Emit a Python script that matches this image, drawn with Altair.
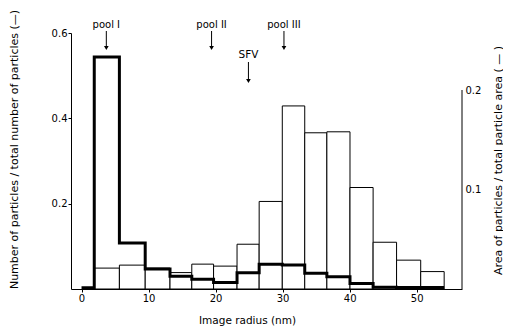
import altair as alt
import pandas as pd

# ---- data ----
edges = [0.0, 1.9, 5.65, 9.5, 13.2, 16.45, 19.7, 23.2, 26.5, 29.95, 33.3, 36.6, 40.05, 43.5, 47.0, 50.6, 54.1]
number_frac = [0.003, 0.544, 0.108, 0.047, 0.030, 0.023, 0.015, 0.038, 0.058, 0.056,
               0.037, 0.029, 0.013, 0.004, 0.0035, 0.0035]
area_frac = [None, 0.021, 0.024, 0.021, 0.0165, 0.025, 0.023, 0.045, 0.088, 0.184,
             0.157, 0.158, 0.102, 0.047, 0.029, 0.0175]
pool_labels = ["pool I", "pool II", "pool III"]
pool_x = [3.7, 19.4, 30.2]
sfv_labels = ["SFV"]
sfv_x = [24.9]
x_ticks = [0, 10, 20, 30, 40, 50]
left_ticks = [0.2, 0.4, 0.6]
right_ticks = [0.1, 0.2]

x_title = "Image radius (nm)"
left_title = "Number of particles / total number of particles (\u2014)"
right_title = "Area of particles / total particle area ( \u2014 )"

# ---- tables ----
bars_df = pd.DataFrame({
    "lo": [edges[i] for i in range(len(area_frac)) if area_frac[i] is not None],
    "hi": [edges[i + 1] for i in range(len(area_frac)) if area_frac[i] is not None],
    "area": [a for a in area_frac if a is not None],
})
step_df = pd.DataFrame({"x": edges, "y": number_frac + [number_frac[-1]]})
pools_df = pd.DataFrame({"label": pool_labels, "x": pool_x})
sfv_df = pd.DataFrame({"label": sfv_labels, "x": sfv_x})
rax_df = pd.DataFrame({"area": [max(right_ticks)]})

W, H = 391, 256
FONT = "DejaVu Sans"

xscale = alt.Scale(domain=[-1.57, 56.76], nice=False, zero=False)
yL = alt.Scale(domain=[0, 0.6], nice=False)
yR = alt.Scale(domain=[0, 0.2573], nice=False)

x_axis = alt.Axis(values=x_ticks, format="d", title=x_title, tickSize=3, labelPadding=1,
                  titleX=176, titleY=31, titleAlign="center", titleBaseline="middle",
                  titleFontSize=10.5)

left_axis = alt.Axis(orient="left", values=left_ticks, format=".1f", title=left_title,
                     tickSize=3, labelPadding=1, titleX=-57, titleY=116, titleAngle=-90,
                     titleAlign="center", titleBaseline="middle", titleFontSize=11)

right_axis = alt.Axis(orient="right", values=right_ticks, format=".1f", title=right_title,
                      ticks=False, domain=False, labelPadding=3, titleX=36, titleY=127,
                      titleAngle=-90, titleAlign="center", titleBaseline="middle",
                      titleFontSize=11)

bars = alt.Chart(bars_df).mark_rect(fill="white", stroke="black", strokeWidth=1).encode(
    x=alt.X("lo:Q", scale=xscale, axis=x_axis),
    x2="hi:Q",
    y=alt.Y("area:Q", scale=yR, axis=right_axis),
    y2=alt.datum(0),
)

rax = alt.Chart(rax_df).mark_rule(color="black", strokeWidth=1).encode(
    x=alt.value(W),
    y=alt.Y("area:Q", scale=yR, axis=right_axis),
    y2=alt.datum(0),
)

thick = alt.Chart(step_df).mark_line(interpolate="step-after", color="black",
                                     strokeWidth=3).encode(
    x=alt.X("x:Q", scale=xscale, axis=x_axis),
    y=alt.Y("y:Q", scale=yL, axis=left_axis),
)

pool_text = alt.Chart(pools_df).mark_text(font=FONT, fontSize=10, color="black").encode(
    x=alt.X("x:Q", scale=xscale), y=alt.value(-8), text="label:N")
pool_rule = alt.Chart(pools_df).mark_rule(color="black", strokeWidth=1).encode(
    x=alt.X("x:Q", scale=xscale), y=alt.value(-2), y2=alt.value(14))
pool_head = alt.Chart(pools_df).mark_point(shape="triangle-down", filled=True, size=22,
                                           color="black", opacity=1).encode(
    x=alt.X("x:Q", scale=xscale), y=alt.value(15))

sfv_text = alt.Chart(sfv_df).mark_text(font=FONT, fontSize=10.5, color="black").encode(
    x=alt.X("x:Q", scale=xscale), y=alt.value(22), text="label:N")
sfv_rule = alt.Chart(sfv_df).mark_rule(color="black", strokeWidth=1).encode(
    x=alt.X("x:Q", scale=xscale), y=alt.value(29), y2=alt.value(47))
sfv_head = alt.Chart(sfv_df).mark_point(shape="triangle-down", filled=True, size=22,
                                        color="black", opacity=1).encode(
    x=alt.X("x:Q", scale=xscale), y=alt.value(48))

right_group = alt.layer(bars, rax)
left_group = alt.layer(thick, pool_text, pool_rule, pool_head, sfv_text, sfv_rule, sfv_head)

chart = alt.layer(right_group, left_group).resolve_scale(y="independent").properties(
    width=W, height=H,
    autosize=alt.AutoSizeParams(type="none"),
    padding={"left": 63, "top": 25, "right": 41, "bottom": 40},
).configure_view(stroke=None).configure_axis(
    grid=False, domainColor="black", tickColor="black", labelColor="black",
    titleColor="black", labelFont=FONT, titleFont=FONT, labelFontSize=10,
    titleFontWeight="normal", domainWidth=1, tickWidth=1,
)

chart.save("out.html", embed_options={"renderer": "svg", "actions": False})
